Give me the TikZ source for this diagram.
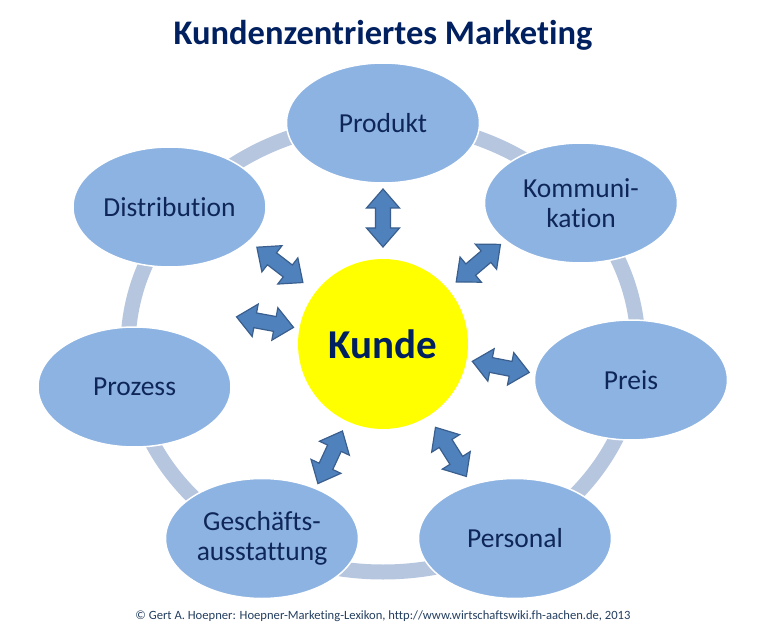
\documentclass[tikz,border=0pt]{standalone}
\usepackage{fontspec}
\setmainfont{Carlito}[Ligatures={NoCommon}]
\usetikzlibrary{calc,shapes.geometric}
\definecolor{ellfill}{HTML}{8DB3E2}
\definecolor{ringcol}{HTML}{B7C6DF}
\definecolor{arrfill}{HTML}{4F81BD}
\definecolor{arrdraw}{HTML}{3A5F8E}
\definecolor{navy}{HTML}{002060}
\definecolor{txtblue}{HTML}{0E2658}
\definecolor{footcol}{HTML}{243F60}
\definecolor{kundefill}{HTML}{FFFF00}
\begin{document}
\begin{tikzpicture}[x=1pt,y=1pt,
  elly/.style={ellipse, minimum width=193pt, minimum height=120pt, inner sep=0pt,
    fill=ellfill, draw=white, line width=1.5pt, align=center, text=txtblue,
    font=\fontsize{27.5}{29.5}\selectfont},
  kundebox/.style={circle, minimum size=170pt, inner sep=0pt, fill=kundefill,
    text=navy, font=\fontsize{41}{45}\selectfont\bfseries},
  fatarrow/.style={fill=arrfill, draw=arrdraw, line width=1.2pt, line join=miter},
  ringline/.style={draw=ringcol, line width=15pt},
  dblarr/.pic={\path[fatarrow] (-29,0) -- (-10,16.5) -- (-10,7.5) -- (10,7.5) -- (10,16.5)
     -- (29,0) -- (10,-16.5) -- (10,-7.5) -- (-10,-7.5) -- (-10,-16.5) -- cycle;}]
\useasboundingbox (0,0) rectangle (768,622);
\fill[white] (0,0) rectangle (768,622);

\node[font=\fontsize{34.5}{40}\selectfont\bfseries, text=navy, anchor=base] (title) at (383,577) {Kundenzentriertes Marketing};

\coordinate (ringc) at (383,275);
\path[ringline] (ringc) ellipse [x radius=255, y radius=225];

\node[kundebox] (kunde) at (383,278) {Kunde};

\node[elly] (produkt) at (383,499) {Produkt};
\node[elly] (komm) at (581,419) {Kommuni-\\kation};
\node[elly] (preis) at (631,242) {Preis};
\node[elly] (personal) at (515,83.5) {Personal};
\node[elly] (gesch) at (262,83.5) {Geschäfts-\\ausstattung};
\node[elly] (prozess) at (134.5,235) {Prozess};
\node[elly] (distr) at (169.5,415) {Distribution};

\coordinate (aProd) at ($(kunde)+(90:126)$);
\coordinate (aKomm) at ($(kunde)+(40.3:125)$);
\coordinate (aPreis) at ($(kunde)+(-11:120)$);
\coordinate (aPers) at ($(kunde)+(-57.8:127.5)$);
\coordinate (aGesch) at ($(kunde)+(-115:125)$);
\coordinate (aProz) at ($(kunde)+(169.5:120)$);
\coordinate (aDistr) at ($(kunde)+(142.5:130)$);

\pic[rotate=90] at (aProd) {dblarr};
\pic[rotate=40.3] at (aKomm) {dblarr};
\pic[rotate=-11] at (aPreis) {dblarr};
\pic[rotate=-57.8] at (aPers) {dblarr};
\pic[rotate=-115] at (aGesch) {dblarr};
\pic[rotate=169.5] at (aProz) {dblarr};
\pic[rotate=142.5] at (aDistr) {dblarr};

\node[font=\fontsize{12.6}{15}\selectfont, text=footcol, anchor=base] (foot) at (383,3) {© Gert A. Hoepner: Hoepner-Marketing-Lexikon, http://www.wirtschaftswiki.fh-aachen.de, 2013};
\end{tikzpicture}
\end{document}
